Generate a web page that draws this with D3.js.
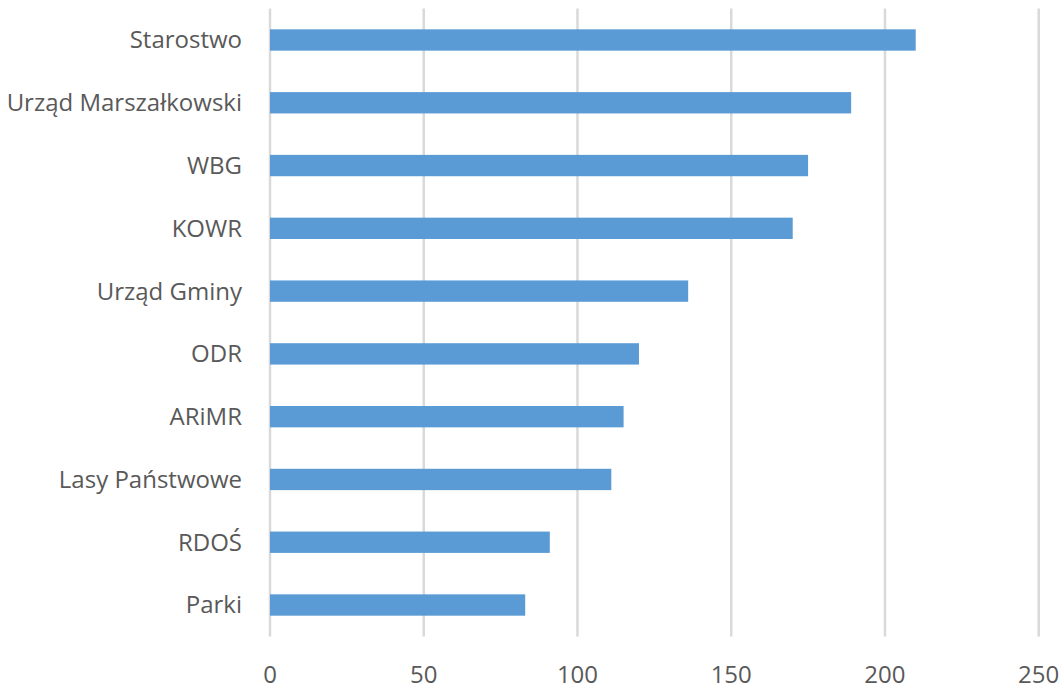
<!DOCTYPE html>
<html>
<head>
<meta charset="utf-8">
<script src="https://cdn.jsdelivr.net/npm/d3@7"></script>
<style>
  body { margin: 0; background: #fff; }
  text { font-family: "Open Sans", sans-serif; fill: #595959; }
</style>
</head>
<body>
<div id="chart"></div>
<script>
var categories = ["Starostwo", "Urząd Marszałkowski", "WBG", "KOWR", "Urząd Gminy",
                  "ODR", "ARiMR", "Lasy Państwowe", "RDOŚ", "Parki"];
var values = [210, 189, 175, 170, 136, 120, 115, 111, 91, 83];
var tickValues = [0, 50, 100, 150, 200, 250];

var data = categories.map(function(c, i) { return {name: c, value: values[i]}; });

// set the dimensions and margins of the graph
var W = 1061, H = 690;
var margin = {top: 8.6, right: 22.3, bottom: 53.6, left: 270},
    width = W - margin.left - margin.right,
    height = H - margin.top - margin.bottom;

var svg = d3.select("#chart").append("svg")
    .attr("width", W)
    .attr("height", H);

var g = svg.append("g")
    .attr("transform", "translate(" + margin.left + "," + margin.top + ")");

var x = d3.scaleLinear().domain([0, 250]).range([0, width]);
var y = d3.scaleBand().domain(categories).range([0, height]).paddingInner(0.66).paddingOuter(0.33);

// gridlines
g.selectAll(".grid")
    .data(tickValues)
    .enter().append("line")
    .attr("x1", function(d) { return x(d); })
    .attr("x2", function(d) { return x(d); })
    .attr("y1", 0)
    .attr("y2", height)
    .style("stroke", "#d9d9d9")
    .style("stroke-width", 2.5);

// bars
g.selectAll(".bar")
    .data(data)
    .enter().append("rect")
    .attr("x", x(0))
    .attr("y", function(d) { return y(d.name); })
    .attr("width", function(d) { return x(d.value) - x(0); })
    .attr("height", y.bandwidth())
    .style("fill", "#5b9bd5");

// category labels
g.selectAll(".label")
    .data(data)
    .enter().append("text")
    .text(function(d) { return d.name; })
    .attr("x", -28)
    .attr("y", function(d) { return y(d.name) + y.bandwidth() / 2; })
    .attr("dy", "0.35em")
    .attr("text-anchor", "end")
    .style("font-size", "24px");

// x tick labels
g.selectAll(".tick-label")
    .data(tickValues)
    .enter().append("text")
    .text(function(d) { return d; })
    .attr("x", function(d) { return x(d); })
    .attr("y", height + 38)
    .attr("dy", "0.35em")
    .attr("text-anchor", "middle")
    .style("font-size", "24px");
</script>
</body>
</html>
